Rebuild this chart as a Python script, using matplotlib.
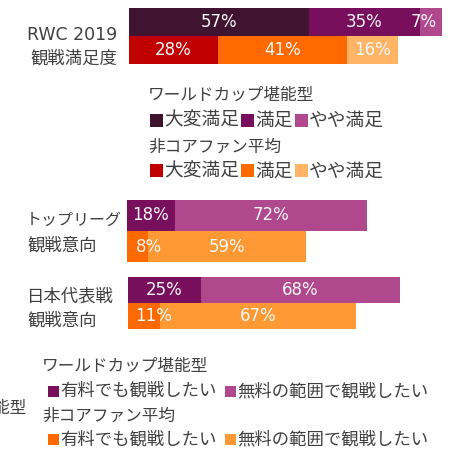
import matplotlib
matplotlib.use("Agg")
import matplotlib.pyplot as plt
from matplotlib.patches import Rectangle

# ---- data ----
rwc_core = [57, 35, 7]          # ワールドカップ堪能型: 大変満足 / 満足 / やや満足
rwc_noncore = [28, 41, 16]      # 非コアファン平均
tl_core = [18, 72]              # トップリーグ観戦意向: 有料 / 無料
tl_noncore = [8, 59]
jp_core = [25, 68]              # 日本代表戦観戦意向
jp_noncore = [11, 67]

sat_labels = ["大変満足", "満足", "やや満足"]
intent_labels = ["有料でも観戦したい", "無料の範囲で観戦したい"]
group_core = "ワールドカップ堪能型"
group_noncore = "非コアファン平均"

# ---- styling ----
W, H = 454, 450
JP = ["Noto Sans CJK JP", "DejaVu Sans"]
LAT = ["DejaVu Sans", "Noto Sans CJK JP"]
GRAY = "#404040"
c_core_sat = ["#3f1430", "#780f5c", "#b0488e"]
c_non_sat = ["#c00000", "#ff6a00", "#ffb466"]
c_core_int = ["#780f5c", "#b0488e"]
c_non_int = ["#ff6a00", "#ff9933"]

fig = plt.figure(figsize=(W / 100, H / 100), dpi=100)
renderer = fig.canvas.get_renderer()


def px_axes(left, top, right, bottom):
    return fig.add_axes([left / W, 1 - bottom / H, (right - left) / W, (bottom - top) / H])


def stacked(ax, core, noncore, ccol, ncol, nudges=None):
    nudges = nudges or {}
    xmax = max(sum(core), sum(noncore))
    for row, (vals, cols) in enumerate([(noncore, ncol), (core, ccol)]):
        left = 0
        for i, (v, c) in enumerate(zip(vals, cols)):
            ax.barh(row, v, left=left, height=1.0, color=c, edgecolor="none")
            dx = nudges.get((row, i), 0)
            ax.annotate(f"{v}%", (left + v / 2, row), xytext=(dx, 0),
                        textcoords="offset points", ha="center", va="center",
                        color="#f7f7f7", fontsize=12, family=LAT)
            left += v
    ax.set_xlim(0, xmax)
    ax.set_ylim(-0.5, 1.5)
    ax.axis("off")


ax1 = px_axes(129, 8, 442, 64)
stacked(ax1, rwc_core, rwc_noncore, c_core_sat, c_non_sat, {(1, 2): -5})

ax2 = px_axes(127, 200, 367, 262)
stacked(ax2, tl_core, tl_noncore, c_core_int, c_non_int, {(0, 0): 8})

ax3 = px_axes(128, 277, 400, 329)
stacked(ax3, jp_core, jp_noncore, c_core_int, c_non_int, {(0, 0): 7})


def label(x, y, s, size=12.5, ha="left", family=JP):
    return fig.text(x / W, 1 - y / H, s, ha=ha, va="center", color=GRAY,
                    fontsize=size, family=family)


# row titles
label(117, 35, "RWC 2019", ha="right", family=LAT)
label(117, 58.5, "観戦満足度", ha="right")
label(26, 220, "トップリーグ", size=11.5)
label(27, 246, "観戦意向")
label(27, 297, "日本代表戦")
label(27, 321, "観戦意向")


def legend_row(x, y, items, sq, gap_in, gap_out, size):
    """Colored square followed by its text, repeated along one line."""
    for color, text in items:
        fig.patches.append(Rectangle((x / W, 1 - (y + sq / 2) / H), sq / W, sq / H,
                                     transform=fig.transFigure, facecolor=color,
                                     edgecolor="none"))
        x += sq + gap_in
        t = label(x, y, text, size=size)
        x += t.get_window_extent(renderer).width + gap_out


# satisfaction legend
label(148, 95, group_core, size=12)
legend_row(150, 120.5, list(zip(c_core_sat, sat_labels)), 13, 1, 2, 13.5)
label(148, 147, group_noncore, size=12)
legend_row(150, 171, list(zip(c_non_sat, sat_labels)), 13, 1, 2, 13.5)

# viewing-intent legend
label(27, 408, group_core, size=12, ha="right")
label(42, 366, group_core, size=12)
legend_row(48, 391, list(zip(c_core_int, intent_labels)), 11, 1, 9, 12.5)
label(42, 416, group_noncore, size=12)
legend_row(48, 439.5, list(zip(c_non_int, intent_labels)), 11, 1, 9, 12.5)

fig.savefig("out.png", dpi=100)
